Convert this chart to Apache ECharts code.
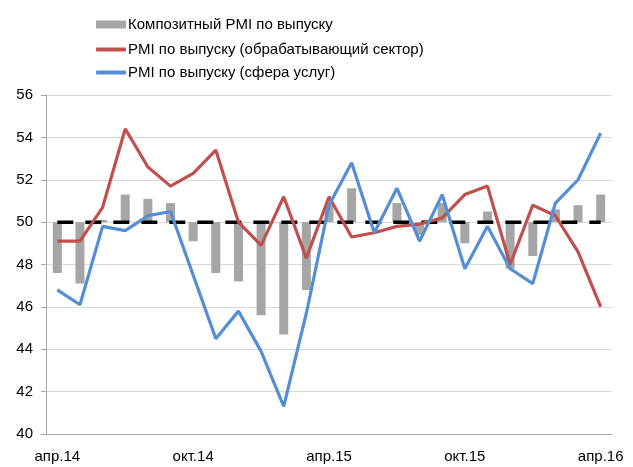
<!DOCTYPE html>
<html>
<head>
<meta charset="utf-8">
<script src="https://cdn.jsdelivr.net/npm/echarts@6/dist/echarts.min.js"></script>
<style>html,body{margin:0;padding:0;background:#fff}#c{width:633px;height:467px}</style>
</head>
<body>
<div id="c"></div>
<script>
const categories = ['апр.14','май.14','июн.14','июл.14','авг.14','сен.14','окт.14','ноя.14','дек.14','янв.15','фев.15','мар.15','апр.15','май.15','июн.15','июл.15','авг.15','сен.15','окт.15','ноя.15','дек.15','янв.16','фев.16','мар.16','апр.16'];
const composite = [47.6,47.1,50.1,51.3,51.1,50.9,49.1,47.6,47.2,45.6,44.7,46.8,50.8,51.6,50.0,50.9,49.4,50.9,49.0,50.5,47.8,48.4,50.6,50.8,51.3];
const manufacturing = [49.1,49.1,50.7,54.4,52.6,51.7,52.3,53.4,50.0,48.9,51.2,48.3,51.2,49.3,49.5,49.8,49.9,50.2,51.3,51.7,48.0,50.8,50.3,48.6,46.0];
const services = [46.8,46.1,49.8,49.6,50.3,50.5,47.5,44.5,45.8,43.9,41.3,45.7,50.8,52.8,49.5,51.6,49.1,51.3,47.8,49.8,47.8,47.1,50.9,52.0,54.2];
const threshold = 50;
const yTicks = [40,42,44,46,48,50,52,54,56];

const names = ['Композитный PMI по выпуску','PMI по выпуску (обрабатывающий сектор)','PMI по выпуску (сфера услуг)'];
const font = "'Liberation Sans', Arial, sans-serif";
const legText = {fontSize:15, color:'#000', fontFamily:font, padding:[0,0,0,-3]};

const chart = echarts.init(document.getElementById('c'), null, {renderer:'canvas'});
chart.setOption({
  animation:false,
  textStyle:{fontFamily:font},
  legend:[
    {left:91, top:12, itemWidth:30, itemHeight:8, textStyle:legText,
     data:[{name:names[0], icon:'rect'}]},
    {left:91, top:37, itemWidth:30, itemHeight:4, textStyle:legText,
     data:[{name:names[1], icon:'roundRect'}]},
    {left:91, top:60, itemWidth:30, itemHeight:4, textStyle:legText,
     data:[{name:names[2], icon:'roundRect'}]}
  ],
  grid:{left:46, right:21, top:95, bottom:33, containLabel:false},
  xAxis:{
    type:'category', data:categories, boundaryGap:true,
    axisLine:{lineStyle:{color:'#A6A6A6', width:1}},
    axisTick:{show:false},
    axisLabel:{interval:5, margin:15, fontSize:15, color:'#000', fontFamily:font}
  },
  yAxis:{
    type:'value', min:yTicks[0], max:yTicks[yTicks.length-1], interval:2,
    axisLine:{show:true, lineStyle:{color:'#A6A6A6', width:1}},
    axisTick:{show:true, length:5, lineStyle:{color:'#A6A6A6'}},
    axisLabel:{margin:13, fontSize:15, color:'#000', fontFamily:font},
    splitLine:{lineStyle:{color:'#D9D9D9', width:1}}
  },
  series:[
    {name:'base', type:'bar', stack:'c', stackStrategy:'all', barWidth:9, silent:true,
     itemStyle:{color:'rgba(0,0,0,0)'}, data:composite.map(()=>threshold)},
    {name:names[0], type:'bar', stack:'c', stackStrategy:'all', barWidth:9,
     itemStyle:{color:'#A6A6A6'}, data:composite.map(v=>+(v-threshold).toFixed(2))},
    {name:'Порог', type:'line', symbol:'none', data:categories.map(()=>threshold),
     lineStyle:{color:'#000', width:3.5, type:[16,12], cap:'butt'}, z:3},
    {name:names[1], type:'line', symbol:'none', data:manufacturing,
     itemStyle:{color:'#C0504D'}, lineStyle:{color:'#C0504D', width:3.2}, z:4},
    {name:names[2], type:'line', symbol:'none', data:services,
     itemStyle:{color:'#558ED5'}, lineStyle:{color:'#558ED5', width:3.2}, z:5}
  ]
});
</script>
</body>
</html>
